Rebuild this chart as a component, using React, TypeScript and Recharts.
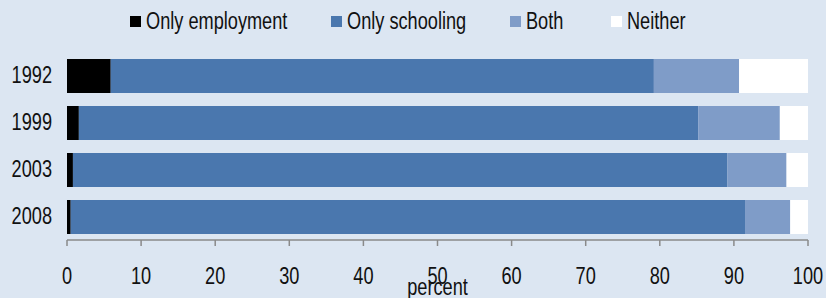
import React from 'react';
import { BarChart, Bar, XAxis, YAxis } from 'recharts';

const years = ['1992', '1999', '2003', '2008'];
const onlyEmployment = [5.9, 1.6, 0.8, 0.5];
const onlySchooling = [73.3, 83.6, 88.3, 91.0];
const both = [11.5, 11.0, 8.0, 6.1];
const neither = [9.3, 3.8, 2.9, 2.4];
const xTicks = [0, 10, 20, 30, 40, 50, 60, 70, 80, 90, 100];

const seriesNames = ['Only employment', 'Only schooling', 'Both', 'Neither'];
const seriesKeys = ['emp', 'school', 'both', 'neither'];
const seriesColors = ['#000000', '#4a77ae', '#7f9cc8', '#ffffff'];
const legendLefts = [130, 331, 510, 611];

const data = years.map((y, i) => ({
  year: y,
  emp: onlyEmployment[i],
  school: onlySchooling[i],
  both: both[i],
  neither: neither[i],
}));

const FONT = '"Liberation Sans", Arial, sans-serif';
const BG = '#dce6f2';
const SX = 0.79;
const FS = 23;
const TXT = '#111';

const squeeze = (x: number, y: number) => `translate(${x},${y}) scale(${SX},1) translate(${-x},${-y})`;

const XTick = (props: any) => {
  const { x, y, payload } = props;
  return (
    <text x={x} y={y} dy="0.71em" textAnchor="middle" fill={TXT} fontSize={FS} fontFamily={FONT} transform={squeeze(x, y)}>
      {payload.value}
    </text>
  );
};

const YTick = (props: any) => {
  const { x, y, payload } = props;
  return (
    <text x={x} y={y} dy="0.33em" textAnchor="end" fill={TXT} fontSize={FS} fontFamily={FONT} transform={squeeze(x, y)}>
      {payload.value}
    </text>
  );
};

const PercentLabel = (props: any) => {
  const vb = props.viewBox || {};
  const cx = vb.x + vb.width / 2;
  const by = vb.y + vb.height - 3;
  return (
    <text x={cx} y={by} textAnchor="middle" fill={TXT} fontSize={FS} fontFamily={FONT} transform={squeeze(cx, by)}>
      percent
    </text>
  );
};

export default function App() {
  return (
    <div style={{ position: 'absolute', left: 0, top: 0, width: 826, height: 298, background: BG, fontFamily: FONT, overflow: 'hidden' }}>
      <style>{`body{margin:0}`}</style>
      {seriesNames.map((n, i) => (
        <div key={n} style={{ position: 'absolute', left: legendLefts[i], top: 8, height: 27, display: 'flex', alignItems: 'center', whiteSpace: 'nowrap' }}>
          <div style={{ width: 11, height: 11, background: seriesColors[i], marginRight: 5, flex: 'none' }} />
          <span style={{ fontSize: FS, color: TXT, lineHeight: '27px', display: 'inline-block', transform: `scaleX(${SX})`, transformOrigin: 'left center' }}>{n}</span>
        </div>
      ))}
      <BarChart
        width={826}
        height={298}
        data={data}
        layout="vertical"
        margin={{ top: 52, right: 18, bottom: 0, left: 0 }}
        barSize={34}
        style={{ position: 'absolute', left: 0, top: 0 }}
      >
        <XAxis
          type="number"
          domain={[0, 100]}
          ticks={xTicks}
          interval={0}
          height={58}
          axisLine={{ stroke: '#8a8a8a', strokeWidth: 1.5 }}
          tickLine={{ stroke: '#8a8a8a', strokeWidth: 1.5 }}
          tickSize={6}
          tickMargin={22}
          tick={<XTick />}
          label={<PercentLabel />}
        />
        <YAxis
          type="category"
          dataKey="year"
          width={67}
          axisLine={false}
          tickLine={false}
          tickSize={0}
          tickMargin={15}
          tick={<YTick />}
        />
        {seriesKeys.map((k, i) => (
          <Bar key={k} dataKey={k} name={seriesNames[i]} stackId="a" fill={seriesColors[i]} isAnimationActive={false} />
        ))}
      </BarChart>
    </div>
  );
}
